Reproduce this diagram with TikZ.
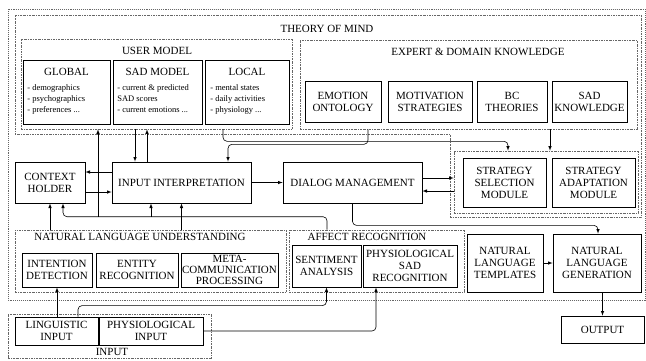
\documentclass[tikz,border=0pt]{standalone}
\usepackage{fontspec}
\setmainfont{Liberation Serif}
\usetikzlibrary{positioning,arrows.meta}

\begin{document}
\begin{tikzpicture}[x=1pt,y=-1pt,font=\fontsize{11}{12}\selectfont,>=latex,line width=0.6pt]
\tikzstyle{box}=[draw,line width=0.8pt,align=center,inner sep=1pt]
\tikzstyle{group}=[draw=black!60,dash pattern=on 2pt off 1pt on 0.6pt off 1pt,inner sep=0pt]
\tikzstyle{outerline}=[draw=black!60,densely dotted,line width=0.9pt]
\tikzstyle{itemtxt}=[align=left,inner sep=0pt,font=\fontsize{8.5}{11}\selectfont]
\tikzstyle{elbow}=[rounded corners=4pt]

\useasboundingbox (0,0) rectangle (646,360);

% frames
\draw[outerline] (8,9) rectangle (645,300);
\draw[group] (15,15) -- (641,15) -- (641,217) -- (450,217) -- (450,134) -- (15,134) -- cycle;
\node (tomT) at (327,29) {THEORY OF MIND};

% user model
\node[group,minimum width=271pt,minimum height=90pt] (um) at (156.5,84) {};
\node (umT) at (157,51) {USER MODEL};
\node[box,minimum width=87pt,minimum height=64pt] (glob) at (66.5,92) {};
\node (globT) at (66.5,72) {GLOBAL};
\node[itemtxt,anchor=north west] (globL) at (27,84) {- demographics\\- psychographics\\- preferences ...};
\node[box,minimum width=89pt,minimum height=64pt] (sadm) at (157.5,92) {};
\node (sadmT) at (157.5,72) {SAD MODEL};
\node[itemtxt,anchor=north west] (sadmL) at (117,84) {- current \& predicted\\SAD scores\\- current emotions ...};
\node[box,minimum width=84pt,minimum height=64pt] (loc) at (247,92) {};
\node (locT) at (247,72) {LOCAL};
\node[itemtxt,anchor=north west] (locL) at (210,84) {- mental states\\- daily activities\\- physiology ...};

% expert and domain knowledge
\node[group,minimum width=337pt,minimum height=89pt] (edk) at (468.5,84.5) {};
\node (edkT) at (478,52) {EXPERT \& DOMAIN KNOWLEDGE};
\node[box,minimum width=76pt,minimum height=41pt] (emo) at (343,101.5) {EMOTION\\ONTOLOGY};
\node[box,minimum width=84pt,minimum height=41pt] (mot) at (430,101.5) {MOTIVATION\\STRATEGIES};
\node[box,minimum width=70pt,minimum height=41pt] (bct) at (512,101.5) {BC\\THEORIES};
\node[box,minimum width=75pt,minimum height=41pt] (sadk) at (589.5,101.5) {SAD\\KNOWLEDGE};

% middle row
\node[box,minimum width=70pt,minimum height=41pt] (ch) at (50,182.5) {CONTEXT\\HOLDER};
\node[box,minimum width=139pt,minimum height=41pt] (ii) at (181.5,182.5) {INPUT INTERPRETATION};
\node[box,minimum width=139pt,minimum height=41pt] (dm) at (352.5,182.5) {DIALOG MANAGEMENT};
\node[group,minimum width=184pt,minimum height=62pt] (stc) at (546,182) {};
\node[box,minimum width=83pt,minimum height=49pt] (ssm) at (504.5,182.5) {STRATEGY\\SELECTION\\MODULE};
\node[box,minimum width=83pt,minimum height=49pt] (sam) at (593.5,182.5) {STRATEGY\\ADAPTATION\\MODULE};

% understanding and recognition
\node[group,minimum width=271pt,minimum height=62pt] (nlu) at (150.5,261) {};
\node (nluT) at (140,237) {NATURAL LANGUAGE UNDERSTANDING};
\node[box,minimum width=70pt,minimum height=34pt] (idet) at (57,270) {INTENTION\\DETECTION};
\node[box,minimum width=82pt,minimum height=34pt] (ent) at (137,270) {ENTITY\\RECOGNITION};
\node[box,minimum width=97pt,minimum height=34pt,font=\fontsize{11}{11}\selectfont] (meta) at (229.5,270) {META-\\COMMUNICATION\\PROCESSING};
\node[group,minimum width=175pt,minimum height=62pt] (ar) at (376.5,261) {};
\node (arT) at (367,237) {AFFECT RECOGNITION};
\node[box,minimum width=69pt,minimum height=42pt] (sent) at (326.5,266) {SENTIMENT\\ANALYSIS};
\node[box,minimum width=94pt,minimum height=42pt] (psad) at (410,266) {PHYSIOLOGICAL\\SAD\\RECOGNITION};
\node[box,minimum width=76pt,minimum height=58pt] (nlt) at (505,263) {NATURAL\\LANGUAGE\\TEMPLATES};
\node[box,minimum width=88pt,minimum height=58pt] (nlg) at (597,263) {NATURAL\\LANGUAGE\\GENERATION};
\node[box,minimum width=83pt,minimum height=27pt] (out) at (602.5,329.5) {OUTPUT};

% input
\node[group,minimum width=203pt,minimum height=44pt] (inp) at (109.5,336) {};
\node (inpT) at (112,352) {INPUT};
\node[box,minimum width=83pt,minimum height=28pt] (ling) at (56.5,331) {LINGUISTIC\\INPUT};
\node[box,minimum width=104pt,minimum height=28pt] (phys) at (151,331) {PHYSIOLOGICAL\\INPUT};

% connectors
\draw[->] ([xshift=-21.5pt]um.south) -- ([xshift=-46.5pt]ii.north);
\draw[->] ([xshift=-34.5pt]ii.north) -- ([xshift=-9.5pt]um.south);
\coordinate (arup) at ([xshift=-49.5pt,yshift=13pt]ar.north);
\draw[->,elbow] ([xshift=-49.5pt]ar.north) -- (arup) -| ([xshift=13pt]ch.south);
\draw[->] ([xshift=-58.5pt]um.south |- arup) -- ([xshift=-58.5pt]um.south);
\draw[->] ([xshift=-30.5pt]ii.south |- arup) -- ([xshift=-30.5pt]ii.south);
\draw[->] (ch.south |- nlu.north) -- (ch.south);
\draw[->] (ii.south |- nlu.north) -- (ii.south);
\draw[->] ([yshift=10.5pt]ii.west) -- ([yshift=10.5pt]ch.east);
\draw[->] ([yshift=-9.5pt]ch.east) -- ([yshift=-9.5pt]ii.west);
\draw[->] (ii.east) -- (dm.west);
\draw[->,elbow] ([xshift=66.5pt]um.south) -- ++(0,12) -| ([xshift=-38pt]stc.north);
\draw[->,elbow] ([xshift=-100.5pt]edk.south) -- ++(0,15) -| ([xshift=46.5pt]ii.north);
\draw[->] ([xshift=4pt]stc.north |- edk.south) -- ([xshift=4pt]stc.north);
\draw[->] ([yshift=4.5pt]dm.east) -- ([yshift=4.5pt]dm.east -| stc.west);
\draw[->] ([yshift=-8.5pt]dm.east -| stc.west) -- ([yshift=-8.5pt]dm.east);
\draw[->,elbow] (dm.south) -- ++(0,22) -| ([xshift=1pt]nlg.north);
\draw[->] (nlt.east) -- (nlg.west);
\draw[->] (nlg.south -| out.north) -- (out.north);
\draw[->] (idet.south |- ling.north) -- (idet.south);
\draw[->,elbow] ([xshift=21.5pt]ling.north) -- ++(0,-11) -| (sent.south);
\draw[->,elbow] (phys.east) -| ([xshift=-34pt]psad.south);
\end{tikzpicture}
\end{document}
